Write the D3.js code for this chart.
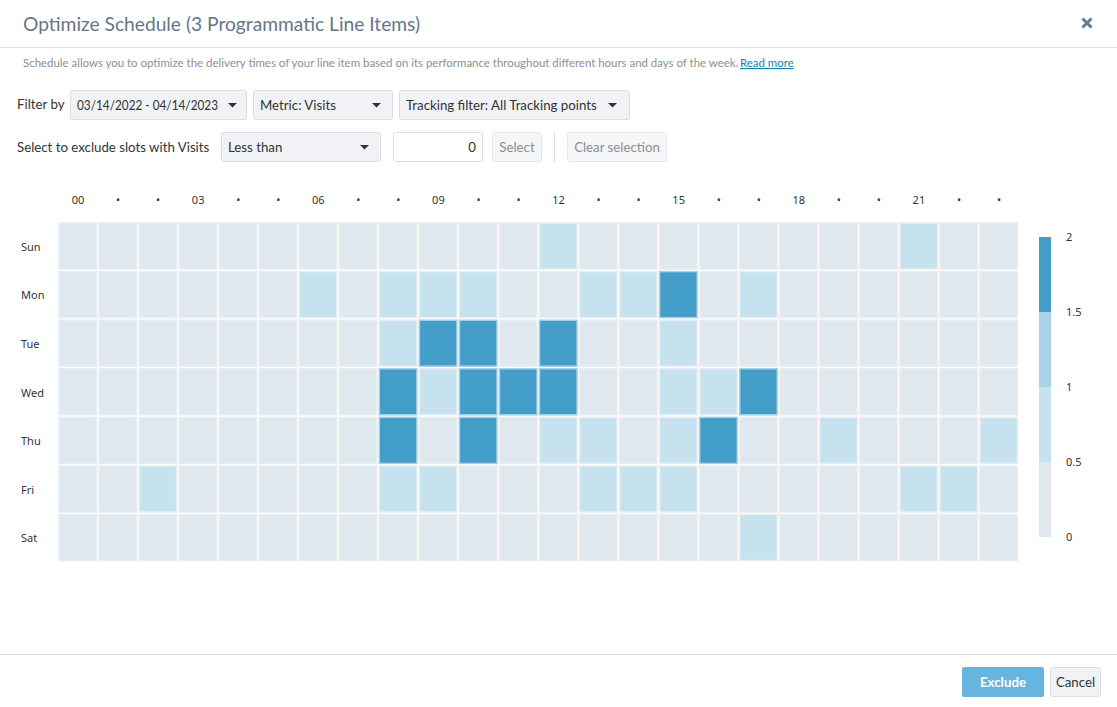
<!DOCTYPE html>
<html>
<head>
<meta charset="utf-8">
<title>Optimize Schedule</title>
<script src="https://cdn.jsdelivr.net/npm/d3@7"></script>
<style>
html, body { margin: 0; padding: 0; background: #fff; }
svg { display: block; font-family: Lato, "Noto Sans", sans-serif; }
.axis path, .axis line { display: none; }
.axis text { font-size: 11px; fill: #333; font-family: "Noto Sans", sans-serif; }
</style>
</head>
<body>
<div id="chart"></div>
<script>
var svgWidth = 1117;
var svgHeight = 707;

var hours = d3.range(24);
var hourLabels = ["00","•","•","03","•","•","06","•","•","09","•","•","12","•","•","15","•","•","18","•","•","21","•","•"];
var days = ["Sun","Mon","Tue","Wed","Thu","Fri","Sat"];

// visits per hour slot, one list per day
var sun = [0,0,0,0,0,0,0,0,0,0,0,0,1,0,0,0,0,0,0,0,0,1,0,0];
var mon = [0,0,0,0,0,0,1,0,1,1,1,0,0,1,1,2,0,1,0,0,0,0,0,0];
var tue = [0,0,0,0,0,0,0,0,1,2,2,0,2,0,0,1,0,0,0,0,0,0,0,0];
var wed = [0,0,0,0,0,0,0,0,2,1,2,2,2,0,0,1,1,2,0,0,0,0,0,0];
var thu = [0,0,0,0,0,0,0,0,2,0,2,0,1,1,0,1,2,0,0,1,0,0,0,1];
var fri = [0,0,1,0,0,0,0,0,1,1,0,0,0,1,1,1,0,0,0,0,0,1,1,0];
var sat = [0,0,0,0,0,0,0,0,0,0,0,0,0,0,0,0,0,1,0,0,0,0,0,0];
var visits = [sun, mon, tue, wed, thu, fri, sat];

var legendBreaks = [0, 0.5, 1, 1.5, 2];
var legendColors = ["#dfe8ee", "#c6e2ef", "#a9d3e7", "#429dc9"];

var svg = d3.select("#chart")
    .append("svg")
    .attr("width", svgWidth)
    .attr("height", svgHeight);

// heatmap
var x = d3.scaleBand().domain(hours).range([58, 1019]);
var y = d3.scaleBand().domain(days).range([223, 563.2]);
// a value sitting on a break takes the colour below it, so 1 is the pale blue
var color = d3.scaleThreshold().domain([0.5, 1.01, 1.5]).range(legendColors);

var cells = [];
visits.forEach(function(row, i) {
    row.forEach(function(v, h) {
        cells.push({ day: days[i], hour: h, value: v });
    });
});

svg.append("g").selectAll("rect")
    .data(cells)
    .enter()
    .append("rect")
    .attr("x", d => x(d.hour) + 1)
    .attr("y", d => y(d.day))
    .attr("width", x.bandwidth() - 2.5)
    .attr("height", y.bandwidth() - 2.6)
    .attr("fill", d => color(d.value))
    .attr("stroke", d => d.value >= 1.5 ? "#a5cfe5" : "#e9edf0")
    .attr("stroke-width", 1.5);

var xAxis = d3.axisTop(x).tickSize(0).tickFormat((d, i) => hourLabels[i]);
svg.append("g")
    .attr("class", "axis")
    .attr("transform", "translate(0, 207)")
    .call(xAxis);

var yAxis = d3.axisLeft(y).tickSize(0).tickPadding(0);
svg.append("g")
    .attr("class", "axis")
    .attr("transform", "translate(21, 0)")
    .call(yAxis)
    .selectAll("text")
    .attr("text-anchor", "start");

// legend
var legendScale = d3.scaleLinear().domain([0, 2]).range([537, 237]);
svg.append("g").selectAll("rect")
    .data(legendColors)
    .enter()
    .append("rect")
    .attr("x", 1039)
    .attr("width", 12)
    .attr("y", (d, i) => legendScale(legendBreaks[i + 1]))
    .attr("height", (d, i) => legendScale(legendBreaks[i]) - legendScale(legendBreaks[i + 1]))
    .attr("fill", d => d);

svg.append("g")
    .attr("class", "axis")
    .attr("transform", "translate(1066, 0)")
    .call(d3.axisRight(legendScale).tickValues(legendBreaks).tickSize(0).tickPadding(0).tickFormat(d3.format("")));

// dialog chrome
function label(txt, px, py, size, fill, anchor) {
    return svg.append("text")
        .attr("x", px)
        .attr("y", py)
        .attr("font-size", size)
        .attr("fill", fill)
        .attr("text-anchor", anchor || "start")
        .text(txt);
}

function box(px, py, w, h, fill, stroke) {
    svg.append("rect")
        .attr("x", px + 0.5)
        .attr("y", py + 0.5)
        .attr("width", w - 1)
        .attr("height", h - 1)
        .attr("rx", 2)
        .attr("fill", fill)
        .attr("stroke", stroke);
}

function caret(px, py) {
    svg.append("path")
        .attr("d", d3.line()([[px, py], [px + 9, py], [px + 4.5, py + 4.5]]))
        .attr("fill", "#333");
}

function rule(x1, y1, x2, y2) {
    svg.append("line")
        .attr("x1", x1).attr("y1", y1).attr("x2", x2).attr("y2", y2)
        .attr("stroke", "#dcdde3");
}

var bodySize = 13.25;

label("Optimize Schedule (3 Programmatic Line Items)", 23, 31, 19.2, "#66758a");
rule(0, 47.5, 1117, 47.5);
svg.append("path")
    .attr("d", "M1082.5 18.5L1091.5 27.5M1091.5 18.5L1082.5 27.5")
    .attr("stroke", "#5f7d90")
    .attr("stroke-width", 3)
    .attr("fill", "none");

label("Schedule allows you to optimize the delivery times of your line item based on its performance throughout different hours and days of the week.", 23, 67, 11.45, "#8b8f96");
label("Read more", 740, 67, 11.45, "#1583a8").attr("text-decoration", "underline");

label("Filter by", 17, 109, bodySize, "#333");
box(70, 90, 177, 30, "#f1f2f6", "#dcdde3");
// Lato's digits run wide, so the date range is squeezed to keep it clear of the caret
label("03/14/2022 - 04/14/2023", 77, 110, bodySize, "#333")
    .attr("textLength", 141)
    .attr("lengthAdjust", "spacingAndGlyphs");
caret(228, 103);
box(253, 90, 140, 30, "#f1f2f6", "#dcdde3");
label("Metric: Visits", 260, 110, bodySize, "#333");
caret(372, 103);
box(399, 90, 231, 30, "#f1f2f6", "#dcdde3");
label("Tracking filter: All Tracking points", 406, 110, bodySize, "#333");
caret(608, 103);

label("Select to exclude slots with Visits", 17, 152, bodySize, "#333");
box(221, 132, 160, 30, "#f1f2f6", "#dcdde3");
label("Less than", 228, 152, bodySize, "#333");
caret(360, 145);
box(393, 132, 90, 30, "#fff", "#dcdde3");
label("0", 476, 152, bodySize, "#333", "end");
box(492, 132, 50, 30, "#f5f6f8", "#e6e7eb");
label("Select", 517, 152, bodySize, "#8b8f96", "middle");
rule(554.5, 132, 554.5, 162);
box(567, 132, 100, 30, "#f5f6f8", "#e6e7eb");
label("Clear selection", 617, 152, bodySize, "#8b8f96", "middle");

rule(0, 654.5, 1117, 654.5);
svg.append("rect").attr("x", 962).attr("y", 667).attr("width", 82).attr("height", 30).attr("rx", 2).attr("fill", "#65b5e0");
label("Exclude", 1003, 687, bodySize, "#fff", "middle").attr("font-weight", 700);
box(1050, 667, 51, 30, "#f1f2f6", "#dcdde3");
label("Cancel", 1075.5, 687, bodySize, "#333", "middle");
</script>
</body>
</html>
